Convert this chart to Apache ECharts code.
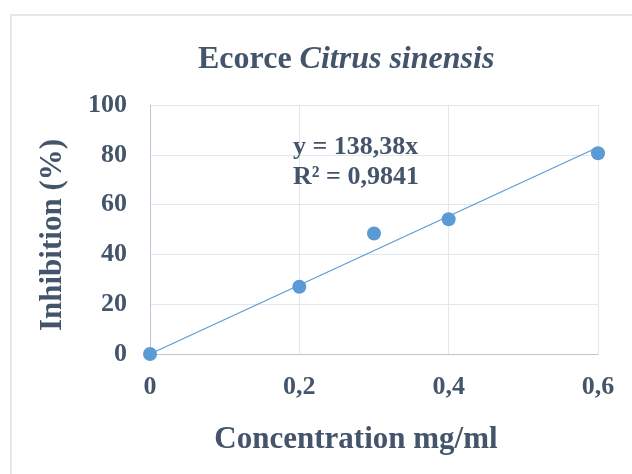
<!DOCTYPE html>
<html>
<head>
<meta charset="utf-8">
<script src="https://cdn.jsdelivr.net/npm/echarts@6/dist/echarts.min.js"></script>
<style>html,body{margin:0;padding:0;background:#fff}#c{width:632px;height:474px}</style>
</head>
<body>
<div id="c"></div>
<script>
var concentrations = [0, 0.2, 0.3, 0.4, 0.6];
var inhibition = [0, 27, 48.4, 54.1, 80.6];
var trendSlope = 138.38;
var trendX = [0, 0.6];
var xTicks = [0, 0.2, 0.4, 0.6];
var yTicks = [0, 20, 40, 60, 80, 100];
var equationLines = ['y = 138,38x', 'R² = 0,9841'];

var FONT = '"Liberation Serif", "Times New Roman", serif';
var TXT = '#44546a';

var chart = echarts.init(document.getElementById('c'));
var points = concentrations.map(function (x, i) { return [x, inhibition[i]]; });
var trend = trendX.map(function (x) { return [x, trendSlope * x]; });

chart.setOption({
  backgroundColor: '#fff',
  animation: false,
  title: {
    text: 'Ecorce {i|Citrus sinensis}',
    left: 198, top: 44, padding: 0,
    textStyle: {
      fontFamily: FONT, fontSize: 32, fontWeight: 'bold', color: TXT,
      rich: { i: { fontFamily: FONT, fontSize: 32, fontWeight: 'bold', fontStyle: 'italic', color: TXT } }
    }
  },
  grid: { left: 150, right: 34, top: 105, bottom: 120 },
  xAxis: {
    type: 'value', min: 0, max: 0.6, interval: 0.2,
    name: 'Concentration mg/ml', nameLocation: 'middle', nameGap: 70,
    nameTextStyle: { fontFamily: FONT, fontSize: 31, fontWeight: 'bold', color: TXT, padding: [0, 36, 0, 0] },
    axisLine: { lineStyle: { color: '#bcc6d6', width: 1 } },
    axisTick: { show: false },
    splitLine: { show: true, lineStyle: { color: '#e2e6ee', width: 1 } },
    axisLabel: {
      margin: 20, fontFamily: FONT, fontSize: 26, fontWeight: 'bold', color: TXT,
      formatter: function (v) { return xTicks.indexOf(v) >= 0 ? String(v).replace('.', ',') : ''; }
    }
  },
  yAxis: {
    type: 'value', min: 0, max: 100, interval: 20,
    name: 'Inhibition (%)', nameLocation: 'middle', nameGap: 82,
    nameTextStyle: { fontFamily: FONT, fontSize: 31, fontWeight: 'bold', color: TXT, padding: [0, 11, 0, 0] },
    axisLine: { show: true, lineStyle: { color: '#bcc6d6', width: 1 } },
    axisTick: { show: false },
    splitLine: { show: true, lineStyle: { color: '#e2e6ee', width: 1 } },
    axisLabel: {
      margin: 23, fontFamily: FONT, fontSize: 26, fontWeight: 'bold', color: TXT,
      formatter: function (v) { return yTicks.indexOf(v) >= 0 ? String(v) : ''; }
    }
  },
  series: [
    {
      type: 'line', data: trend, showSymbol: false, symbol: 'none',
      lineStyle: { color: '#5b9bd5', width: 1.2 }, z: 2, silent: true
    },
    {
      type: 'scatter', data: points, symbol: 'circle', symbolSize: 14,
      itemStyle: { color: '#5b9bd5', opacity: 1 }, z: 3
    }
  ],
  graphic: [
    {
      type: 'rect', z: -10, silent: true,
      shape: { x: 11, y: 15, width: 700, height: 500 },
      style: { fill: 'none', stroke: '#e4e7ed', lineWidth: 2 }
    },
    {
      type: 'text', left: 293, top: 132, z: 10,
      style: {
        text: equationLines.join('\n'),
        font: 'bold 26px ' + FONT, fill: TXT, lineHeight: 30
      }
    }
  ]
});
</script>
</body>
</html>
